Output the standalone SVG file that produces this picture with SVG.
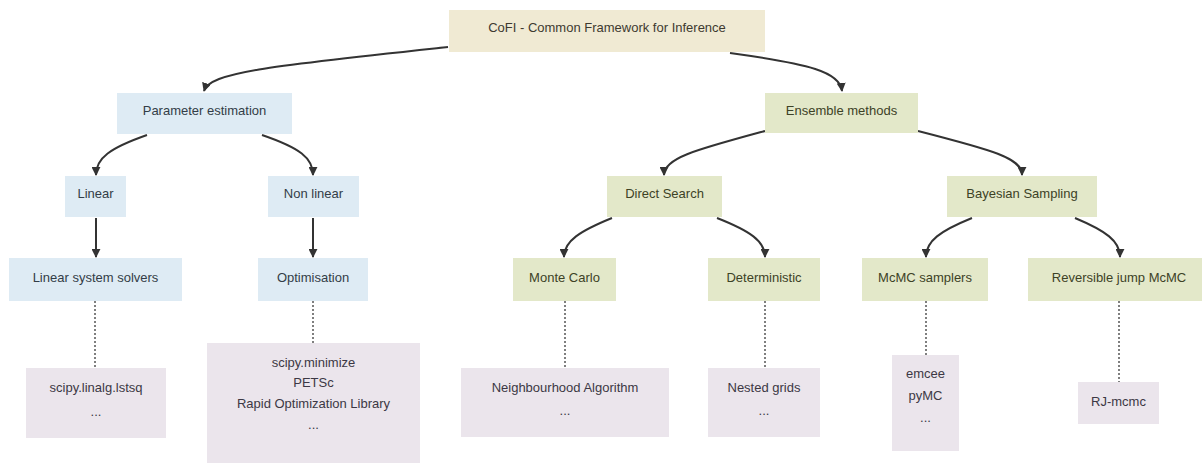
<svg xmlns="http://www.w3.org/2000/svg" width="1202" height="463" viewBox="0 0 1202 463">
<style>
text{font-family:"Liberation Sans",Arial,sans-serif;font-size:13px;text-anchor:middle}
.root rect{fill:#f0ead3}
.root text{fill:#3e3a30}
.blue rect{fill:#deebf4}
.blue text{fill:#333d47}
.green rect{fill:#e3e8c9}
.green text{fill:#3d4226}
.lav rect{fill:#ebe5ec}
.lav text{fill:#3c3844}
.edge{fill:none;stroke:#333;stroke-width:2}
.dot{fill:none;stroke:#555;stroke-width:1.5;stroke-dasharray:2 2}
</style>
<defs>
<marker id="arr" viewBox="0 0 10 10" refX="9" refY="5" markerWidth="9" markerHeight="9" markerUnits="userSpaceOnUse" orient="auto">
<path d="M0,0 L10,5 L0,10 z" fill="#333"/>
</marker>
</defs>
<rect width="1202" height="463" fill="#ffffff"/>
<g id="connectors">
<path class="edge" marker-end="url(#arr)" d="M448,47 C270,66 210,72 204,91"/>
<path class="edge" marker-end="url(#arr)" d="M730,53 C810,64 840,72 842,91"/>
<path class="edge" marker-end="url(#arr)" d="M147,135 C110,148 96,158 96,175"/>
<path class="edge" marker-end="url(#arr)" d="M262,135 C300,148 313,158 313,175"/>
<path class="edge" marker-end="url(#arr)" d="M96,218 L96,257"/>
<path class="edge" marker-end="url(#arr)" d="M313,218 L313,257"/>
<path class="edge" marker-end="url(#arr)" d="M765,131 C695,150 664,158 664,175"/>
<path class="edge" marker-end="url(#arr)" d="M918,131 C992,150 1022,158 1022,175"/>
<path class="edge" marker-end="url(#arr)" d="M612,218 C580,231 564,241 564,257"/>
<path class="edge" marker-end="url(#arr)" d="M717,218 C750,231 765,241 765,257"/>
<path class="edge" marker-end="url(#arr)" d="M972,218 C940,231 926,241 926,257"/>
<path class="edge" marker-end="url(#arr)" d="M1075,218 C1106,231 1120,241 1120,257"/>
<path class="dot" d="M95,301 L95,368"/>
<path class="dot" d="M313,301 L313,343"/>
<path class="dot" d="M565,301 L565,368"/>
<path class="dot" d="M765,301 L765,368"/>
<path class="dot" d="M926,301 L926,355"/>
<path class="dot" d="M1119,301 L1119,382"/>
</g>
<g id="root" class="root"><rect x="449" y="10" width="316" height="42"/><text x="607" y="31.5">CoFI - Common Framework for Inference</text></g>
<g id="param" class="blue"><rect x="117" y="93" width="175" height="41"/><text x="204.5" y="114.5">Parameter estimation</text></g>
<g id="linear" class="blue"><rect x="65" y="176" width="61" height="41"/><text x="95.5" y="197.5">Linear</text></g>
<g id="nonlinear" class="blue"><rect x="268" y="176" width="91" height="41"/><text x="313.5" y="197.5">Non linear</text></g>
<g id="lss" class="blue"><rect x="9" y="258" width="173" height="43"/><text x="95.5" y="281.5">Linear system solvers</text></g>
<g id="optim" class="blue"><rect x="258" y="258" width="110" height="43"/><text x="313" y="281.5">Optimisation</text></g>
<g id="ensemble" class="green"><rect x="765" y="93" width="153" height="40"/><text x="841.5" y="114.5">Ensemble methods</text></g>
<g id="direct" class="green"><rect x="607" y="176" width="115" height="41"/><text x="664.5" y="197.5">Direct Search</text></g>
<g id="bayes" class="green"><rect x="947" y="176" width="150" height="41"/><text x="1022" y="197.5">Bayesian Sampling</text></g>
<g id="montecarlo" class="green"><rect x="513" y="258" width="103" height="43"/><text x="564.5" y="281.5">Monte Carlo</text></g>
<g id="determ" class="green"><rect x="708" y="258" width="112" height="43"/><text x="764" y="281.5">Deterministic</text></g>
<g id="mcmc" class="green"><rect x="862" y="258" width="126" height="43"/><text x="925" y="281.5">McMC samplers</text></g>
<g id="rjmcmc" class="green"><rect x="1028" y="258" width="184" height="43"/><text x="1119" y="281.5">Reversible jump McMC</text></g>
<g id="lss_list" class="lav"><rect x="26" y="368" width="140" height="70"/><text x="96" y="391.5">scipy.linalg.lstsq</text><text x="96" y="416">...</text></g>
<g id="opt_list" class="lav"><rect x="207" y="343" width="213" height="120"/><text x="313.5" y="366.5">scipy.minimize</text><text x="313.5" y="386.5">PETSc</text><text x="313.5" y="407.5">Rapid Optimization Library</text><text x="313.5" y="429">...</text></g>
<g id="na_list" class="lav"><rect x="461" y="368" width="208" height="69"/><text x="565" y="391.5">Neighbourhood Algorithm</text><text x="565" y="415">...</text></g>
<g id="nested_list" class="lav"><rect x="708" y="368" width="112" height="69"/><text x="764" y="391.5">Nested grids</text><text x="764" y="415">...</text></g>
<g id="mcmc_list" class="lav"><rect x="892" y="355" width="67" height="96"/><text x="925.5" y="377.5">emcee</text><text x="925.5" y="399.5">pyMC</text><text x="925.5" y="422">...</text></g>
<g id="rj_list" class="lav"><rect x="1078" y="382" width="81" height="42"/><text x="1118.5" y="405.5">RJ-mcmc</text></g>
</svg>
